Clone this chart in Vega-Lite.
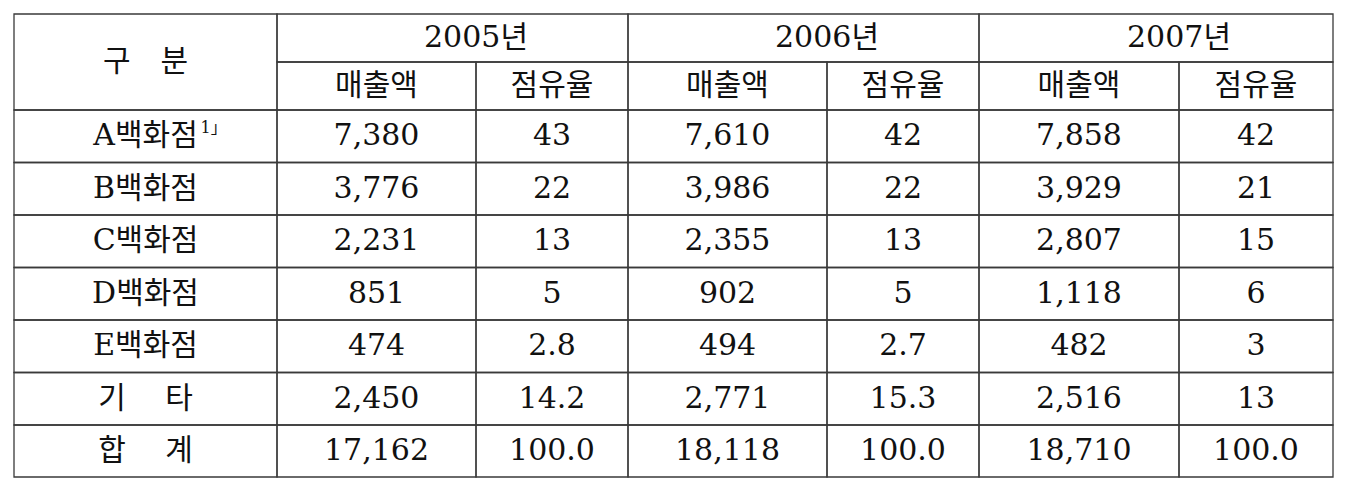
{
  "$schema": "https://vega.github.io/schema/vega-lite/v6.json",
  "autosize": {"type": "none"},
  "padding": 0,
  "width": 1348,
  "height": 492,
  "background": "white",
  "config": {
    "view": {"stroke": null},
    "text": {"font": "DejaVu Serif, Noto Sans CJK KR", "fontSize": 30, "color": "#111", "baseline": "middle", "align": "center"}
  },
  "data": {
    "values": [
      {"r": 0, "c": 0, "rs": 2, "t": "구　분"},
      {"r": 0, "c": 1, "cs": 2, "t": "2005년"},
      {"r": 0, "c": 3, "cs": 2, "t": "2006년"},
      {"r": 0, "c": 5, "cs": 2, "t": "2007년"},
      {"r": 1, "c": 1, "t": "매출액"},
      {"r": 1, "c": 2, "t": "점유율"},
      {"r": 1, "c": 3, "t": "매출액"},
      {"r": 1, "c": 4, "t": "점유율"},
      {"r": 1, "c": 5, "t": "매출액"},
      {"r": 1, "c": 6, "t": "점유율"},

      {"r": 2, "c": 0, "t": "A백화점"},
      {"r": 2, "c": 1, "t": "7,380"},
      {"r": 2, "c": 2, "t": "43"},
      {"r": 2, "c": 3, "t": "7,610"},
      {"r": 2, "c": 4, "t": "42"},
      {"r": 2, "c": 5, "t": "7,858"},
      {"r": 2, "c": 6, "t": "42"},

      {"r": 3, "c": 0, "t": "B백화점"},
      {"r": 3, "c": 1, "t": "3,776"},
      {"r": 3, "c": 2, "t": "22"},
      {"r": 3, "c": 3, "t": "3,986"},
      {"r": 3, "c": 4, "t": "22"},
      {"r": 3, "c": 5, "t": "3,929"},
      {"r": 3, "c": 6, "t": "21"},

      {"r": 4, "c": 0, "t": "C백화점"},
      {"r": 4, "c": 1, "t": "2,231"},
      {"r": 4, "c": 2, "t": "13"},
      {"r": 4, "c": 3, "t": "2,355"},
      {"r": 4, "c": 4, "t": "13"},
      {"r": 4, "c": 5, "t": "2,807"},
      {"r": 4, "c": 6, "t": "15"},

      {"r": 5, "c": 0, "t": "D백화점"},
      {"r": 5, "c": 1, "t": "851"},
      {"r": 5, "c": 2, "t": "5"},
      {"r": 5, "c": 3, "t": "902"},
      {"r": 5, "c": 4, "t": "5"},
      {"r": 5, "c": 5, "t": "1,118"},
      {"r": 5, "c": 6, "t": "6"},

      {"r": 6, "c": 0, "t": "E백화점"},
      {"r": 6, "c": 1, "t": "474"},
      {"r": 6, "c": 2, "t": "2.8"},
      {"r": 6, "c": 3, "t": "494"},
      {"r": 6, "c": 4, "t": "2.7"},
      {"r": 6, "c": 5, "t": "482"},
      {"r": 6, "c": 6, "t": "3"},

      {"r": 7, "c": 0, "t": "기　 타"},
      {"r": 7, "c": 1, "t": "2,450"},
      {"r": 7, "c": 2, "t": "14.2"},
      {"r": 7, "c": 3, "t": "2,771"},
      {"r": 7, "c": 4, "t": "15.3"},
      {"r": 7, "c": 5, "t": "2,516"},
      {"r": 7, "c": 6, "t": "13"},

      {"r": 8, "c": 0, "t": "합　 계"},
      {"r": 8, "c": 1, "t": "17,162"},
      {"r": 8, "c": 2, "t": "100.0"},
      {"r": 8, "c": 3, "t": "18,118"},
      {"r": 8, "c": 4, "t": "100.0"},
      {"r": 8, "c": 5, "t": "18,710"},
      {"r": 8, "c": 6, "t": "100.0"}
    ]
  },
  "transform": [
    {"calculate": "datum.c + (datum.cs || 1)", "as": "c2"},
    {"calculate": "datum.r + (datum.rs || 1)", "as": "r2"},
    {"calculate": "(datum.c + datum.c2) / 2", "as": "cx"},
    {"calculate": "(datum.r + datum.r2) / 2", "as": "ry"}
  ],
  "layer": [
    {
      "mark": {"type": "rect", "fill": null, "stroke": "#3a3a3a", "strokeWidth": 1.3},
      "encoding": {
        "x": {"field": "c", "type": "quantitative", "axis": null,
              "scale": {"domain": [0, 1, 2, 3, 4, 5, 6, 7], "range": [14, 277, 476, 628, 827, 979, 1179, 1333], "nice": false, "zero": false}},
        "x2": {"field": "c2"},
        "y": {"field": "r", "type": "quantitative", "axis": null,
              "scale": {"domain": [0, 1, 2, 3, 4, 5, 6, 7, 8, 9], "range": [14, 62, 110, 162.5, 215, 267.5, 320, 372.5, 425, 477], "nice": false, "zero": false}},
        "y2": {"field": "r2"}
      }
    },
    {
      "mark": {"type": "text"},
      "encoding": {
        "x": {"field": "cx", "type": "quantitative", "axis": null},
        "y": {"field": "ry", "type": "quantitative", "axis": null},
        "text": {"field": "t"}
      }
    },
    {
      "transform": [{"filter": "datum.r == 2 && datum.c == 0"}],
      "mark": {"type": "text", "align": "left", "dx": 55, "dy": -8, "fontSize": 16},
      "encoding": {
        "x": {"field": "cx", "type": "quantitative", "axis": null},
        "y": {"field": "ry", "type": "quantitative", "axis": null},
        "text": {"value": "1」"}
      }
    }
  ]
}
